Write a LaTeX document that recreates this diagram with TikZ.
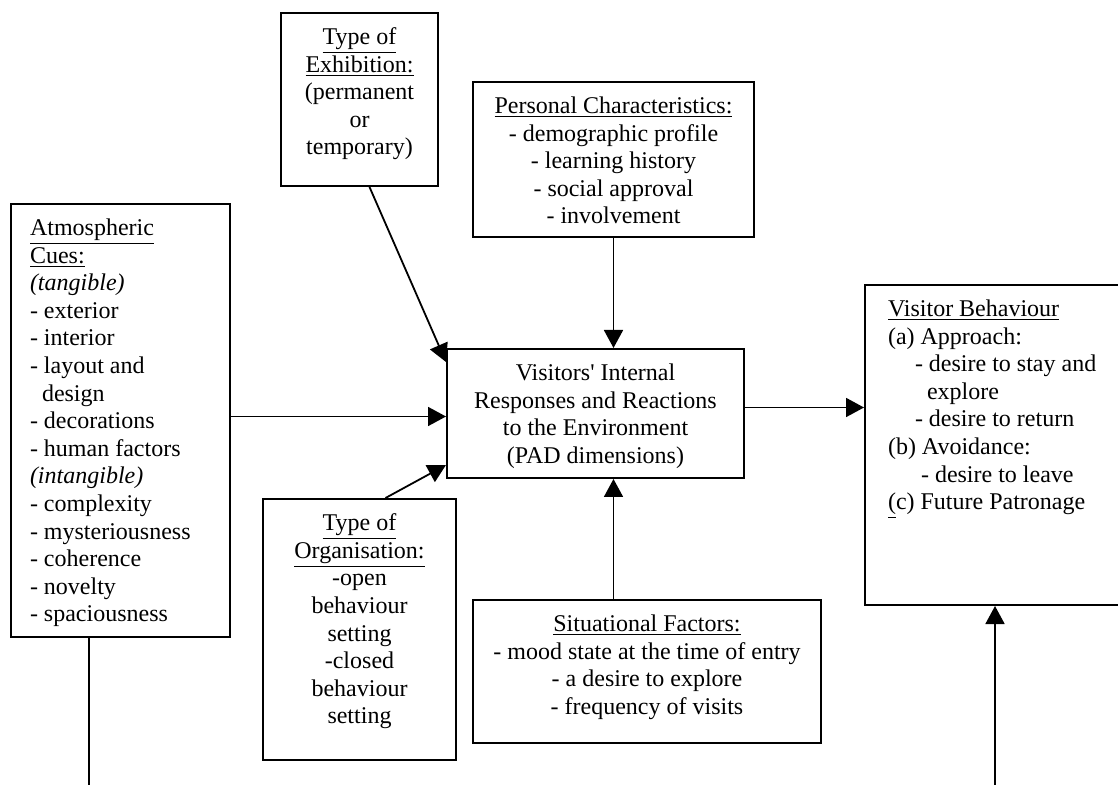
\documentclass[tikz,border=0pt]{standalone}
\usepackage{fontspec}
\setmainfont{Liberation Serif}
\usepackage{tikz}
\usetikzlibrary{arrows.meta}

% box body: width, height, alignment, lines
\newcommand{\boxtext}[4]{\parbox[t][#2][t]{#1}{#3\rule{0pt}{15.8pt}#4}}

\begin{document}
\begin{tikzpicture}[x=0.5pt, y=-0.5pt, thick,
    box/.style={draw, line width=1pt, inner sep=0pt, anchor=north west,
      font=\fontsize{12}{13.8}\selectfont},
    arr/.style={-{Triangle[length=9pt,width=9.5pt]}, line width=0.9pt}]
  \useasboundingbox (0,0) rectangle (1118,785);
  \clip (0,0) rectangle (1118,785);

  \node[box] (cues) at (10,203) {\boxtext{109.5pt}{216.5pt}{\raggedright\setlength{\leftskip}{9.5pt}}{%
    \underline{Atmospheric}\\ \underline{Cues:}\\ \textit{(tangible)}\\ - exterior\\ - interior\\
    - layout and\\ \hspace*{6pt}design\\ - decorations\\ - human factors\\ \textit{(intangible)}\\
    - complexity\\ - mysteriousness\\ - coherence\\ - novelty\\ - spaciousness}};
  \node[box] (exhib) at (280,12) {\boxtext{78.5pt}{86.5pt}{\centering}{%
    \underline{Type of}\\ \underline{Exhibition:}\\ (permanent\\ or\\ temporary)}};
  \node[box] (person) at (472,81) {\boxtext{140.5pt}{77.5pt}{\centering}{%
    \underline{Personal Characteristics:}\\ - demographic profile\\ - learning history\\
    - social approval\\ - involvement}};
  \node[box] (centre) at (446,348) {\boxtext{148.5pt}{64.5pt}{\centering}{%
    Visitors\textquotesingle{} Internal\\ Responses and Reactions\\ to the Environment\\ (PAD dimensions)}};
  \node[box] (visitor) at (864,284) {\boxtext{131pt}{160pt}{\raggedright\setlength{\leftskip}{11.5pt}}{%
    \underline{Visitor Behaviour}\\ (a) Approach:\\ \hspace*{13.5pt}- desire to stay and\\
    \hspace*{19.5pt}explore\\ \hspace*{13.5pt}- desire to return\\ (b) Avoidance:\\
    \hspace*{16.5pt}- desire to leave\\ \underline{(}c) Future Patronage}};
  \node[box] (organ) at (262,498) {\boxtext{96.5pt}{130.5pt}{\centering}{%
    \underline{Type of}\\ \underline{Organisation:}\\ -open\\ behaviour\\ setting\\ -closed\\
    behaviour\\ setting}};
  \node[box] (situ) at (472,599) {\boxtext{174pt}{71.5pt}{\centering}{%
    \underline{Situational Factors:}\\ - mood state at the time of entry\\ - a desire to explore\\
    - frequency of visits}};

  \coordinate (cuesend) at (89,785);
  \coordinate (visstart) at (995,785);

  % links into the centre box
  \draw[arr] ([yshift=2pt]cues.east) -- ([yshift=2pt]cues.east -| centre.west);
  \draw[arr] ([xshift=5pt]exhib.south) -- ([yshift=-7pt]centre.north west);
  \draw[arr] ([xshift=13pt]organ.north) -- ([yshift=7pt]centre.south west);
  \draw[arr] (person.south) -- (person.south |- centre.north);
  \draw[arr] (situ.north -| person.south) -- (person.south |- centre.south);
  \draw[arr] ([yshift=3pt]centre.east) -- ([yshift=3pt]centre.east -| visitor.west);
  % lines at the bottom
  \draw[line width=0.9pt] (cues.south -| cuesend) -- (cuesend);
  \draw[arr] (visstart) -- (visstart |- visitor.south);
\end{tikzpicture}
\end{document}
